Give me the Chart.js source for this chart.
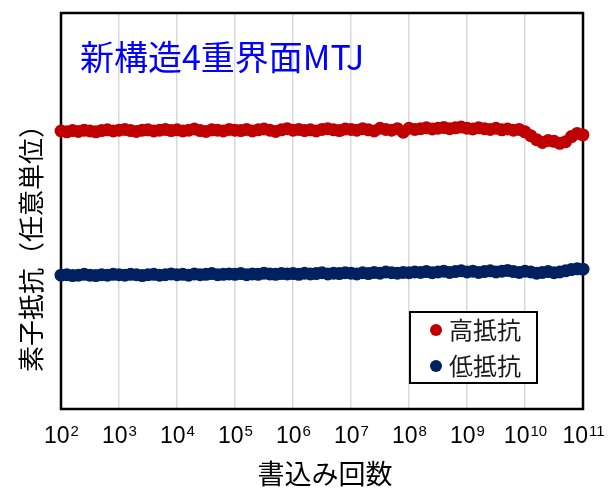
<!DOCTYPE html>
<html><head><meta charset="utf-8">
<script src="https://cdn.jsdelivr.net/npm/chart.js@4/dist/chart.umd.min.js"></script>
<style>html,body{margin:0;padding:0;background:#fff}canvas{display:block}</style>
</head><body>
<canvas id="c" width="616" height="489"></canvas>
<script>
// Labels
const chartTitle = '新構造4重界面MTJ';
const xAxisTitle = '書込み回数';
const yAxisTitle = '素子抵抗（任意単位）';
const seriesNames = ['高抵抗', '低抵抗'];
const seriesColors = ['#C00000', '#002060'];

// Decade ticks on the write-count axis (10^n)
const tickExponents = [2, 3, 4, 5, 6, 7, 8, 9, 10, 11];

// Write count sampled every 0.1 decade (log10 of cycles)
const writeExponents = [
  2.0, 2.1, 2.2, 2.3, 2.4, 2.5, 2.6, 2.7, 2.8, 2.9,
  3.0, 3.1, 3.2, 3.3, 3.4, 3.5, 3.6, 3.7, 3.8, 3.9,
  4.0, 4.1, 4.2, 4.3, 4.4, 4.5, 4.6, 4.7, 4.8, 4.9,
  5.0, 5.1, 5.2, 5.3, 5.4, 5.5, 5.6, 5.7, 5.8, 5.9,
  6.0, 6.1, 6.2, 6.3, 6.4, 6.5, 6.6, 6.7, 6.8, 6.9,
  7.0, 7.1, 7.2, 7.3, 7.4, 7.5, 7.6, 7.7, 7.8, 7.9,
  8.0, 8.1, 8.2, 8.3, 8.4, 8.5, 8.6, 8.7, 8.8, 8.9,
  9.0, 9.1, 9.2, 9.3, 9.4, 9.5, 9.6, 9.7, 9.8, 9.9,
  10.0, 10.1, 10.2, 10.3, 10.4, 10.5, 10.6, 10.7, 10.8, 10.9,
  11.0
];

// Element resistance, arbitrary units (axis spans 0..100)
const highResistance = [
  70.2, 70.0, 70.3, 70.1, 70.4, 70.2, 70.0, 70.3, 70.5, 70.2,
  70.4, 70.6, 70.3, 70.1, 70.4, 70.5, 70.2, 70.4, 70.6, 70.3,
  70.5, 70.2, 70.4, 70.7, 70.3, 70.1, 70.5, 70.4, 70.2, 70.6,
  70.4, 70.3, 70.6, 70.2, 70.5, 70.7, 70.4, 70.1, 70.5, 70.8,
  70.4, 70.6, 70.3, 70.5, 70.2, 70.6, 70.8, 70.5, 70.3, 70.7,
  70.6, 70.4, 70.8, 70.5, 70.2, 70.9, 70.6, 70.4, 70.8, 69.9,
  70.9, 70.6, 70.8, 71.0, 70.7, 70.9, 71.1, 70.8, 71.0, 71.2,
  70.9, 70.7, 71.0, 70.8, 70.6, 70.9, 70.5, 70.7, 70.4, 70.6,
  70.0, 69.0, 68.0, 67.3, 67.8, 67.6, 67.1, 67.5, 68.8, 69.6,
  69.2
];
const lowResistance = [
  33.8, 33.9, 33.7, 33.8, 34.0, 33.8, 33.7, 33.9, 33.8, 34.0,
  33.9, 33.8, 34.0, 33.9, 33.7, 33.9, 34.0, 33.8, 33.9, 34.1,
  33.9, 34.0, 33.8, 34.1, 33.9, 34.0, 34.2, 33.9, 34.0, 34.1,
  34.0, 34.2, 33.9, 34.1, 34.0, 34.3, 34.1, 34.0, 34.2, 34.1,
  34.2, 34.0, 34.3, 34.1, 34.2, 34.4, 34.1, 34.3, 34.2, 34.4,
  34.3, 34.1, 34.4, 34.2, 34.5, 34.3, 34.6, 34.4, 34.3, 34.5,
  34.4, 34.6, 34.5, 34.7, 34.4, 34.6, 34.8, 34.5, 34.7, 34.9,
  34.6, 34.8, 34.5, 34.7, 34.9, 34.6, 34.8, 35.0, 34.7, 34.5,
  34.8, 34.6, 34.3, 34.5, 34.7, 34.4, 34.6, 34.9, 35.2, 35.4,
  35.3
];

const toPoints = vals => vals.map((v, i) => ({ x: Math.pow(10, writeExponents[i]), y: v }));

const LATIN = '"Liberation Sans", Arial, "Noto Sans CJK JP", sans-serif';
const CJK = '"Noto Sans CJK JP", "Liberation Sans", sans-serif';

// Black frame around the plot area, under the markers
const framePlugin = {
  id: 'frame',
  beforeDatasetsDraw(chart) {
    const a = chart.chartArea, ctx = chart.ctx;
    ctx.save();
    ctx.strokeStyle = '#000';
    ctx.lineWidth = 2.5;
    ctx.strokeRect(a.left, a.top, a.right - a.left, a.bottom - a.top);
    ctx.restore();
  }
};

// Tick labels with superscript exponents, axis titles, inner title and legend
const textPlugin = {
  id: 'texts',
  afterDraw(chart) {
    const ctx = chart.ctx, a = chart.chartArea, xs = chart.scales.x;
    ctx.save();
    ctx.fillStyle = '#000';
    ctx.textBaseline = 'alphabetic';
    tickExponents.forEach(e => {
      const px = xs.getPixelForValue(Math.pow(10, e));
      ctx.font = '23px ' + LATIN;
      const wb = ctx.measureText('10').width;
      ctx.font = '15px ' + LATIN;
      const ws = ctx.measureText(String(e)).width;
      const x0 = px - (wb + ws) / 2;
      ctx.font = '23px ' + LATIN;
      ctx.textAlign = 'left';
      ctx.fillText('10', x0, 443);
      ctx.font = '15px ' + LATIN;
      ctx.fillText(String(e), x0 + wb + 1, 436);
    });

    // axis titles
    ctx.textAlign = 'center';
    ctx.textBaseline = 'middle';
    ctx.font = '27px ' + CJK;
    ctx.fillText(xAxisTitle, 325, 474);
    ctx.save();
    ctx.translate(31, 242);
    ctx.rotate(-Math.PI / 2);
    ctx.font = '26px ' + CJK;
    ctx.fillText(yAxisTitle, 0, 0);
    ctx.restore();

    // title inside plot
    ctx.textAlign = 'left';
    ctx.fillStyle = '#0000FF';
    ctx.font = '34px ' + CJK;
    ctx.fillText(chartTitle, 80, 57);

    // legend box
    ctx.fillStyle = '#fff';
    ctx.fillRect(410, 312, 127, 71);
    ctx.strokeStyle = '#000';
    ctx.lineWidth = 2;
    ctx.strokeRect(410, 312, 127, 71);
    const rows = [330, 366];
    chart.data.datasets.forEach((ds, i) => {
      ctx.fillStyle = ds.backgroundColor;
      ctx.beginPath();
      ctx.arc(436, rows[i], 6, 0, Math.PI * 2);
      ctx.fill();
      ctx.fillStyle = '#1a1a1a';
      ctx.font = '24px ' + CJK;
      ctx.textAlign = 'left';
      ctx.fillText(ds.label, 449, rows[i]);
    });
    ctx.restore();
  }
};

new Chart(document.getElementById('c'), {
  type: 'scatter',
  data: {
    datasets: [
      { label: seriesNames[0], data: toPoints(highResistance), backgroundColor: seriesColors[0], borderColor: seriesColors[0] },
      { label: seriesNames[1], data: toPoints(lowResistance), backgroundColor: seriesColors[1], borderColor: seriesColors[1] }
    ]
  },
  options: {
    responsive: false,
    animation: false,
    devicePixelRatio: 1,
    layout: { padding: { top: 13, right: 33, left: 0, bottom: 0 } },
    elements: { point: { radius: 6.5, borderWidth: 0, hoverRadius: 6.5 } },
    clip: false,
    plugins: { legend: { display: false }, tooltip: { enabled: false } },
    scales: {
      x: {
        type: 'logarithmic',
        min: 1e2, max: 1e11,
        afterBuildTicks: s => { s.ticks = tickExponents.map(e => ({ value: Math.pow(10, e) })); },
        afterFit: s => { s.height = 80; },
        ticks: { display: false },
        grid: { color: '#d9d9d9', lineWidth: 1.5, drawTicks: false },
        border: { display: false }
      },
      y: {
        min: 0, max: 100,
        afterFit: s => { s.width = 61; },
        ticks: { display: false },
        grid: { display: false, drawTicks: false },
        border: { display: false }
      }
    }
  },
  plugins: [framePlugin, textPlugin]
});
</script>
</body></html>
